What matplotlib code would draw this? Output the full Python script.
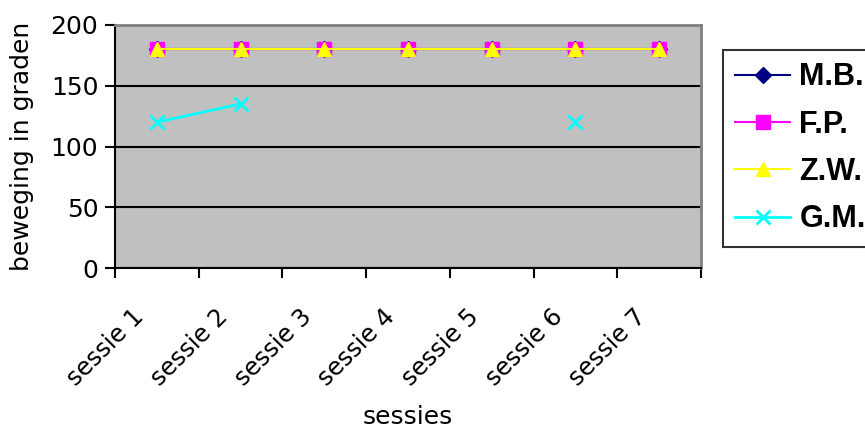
import numpy as np
import matplotlib
matplotlib.use('Agg')
import matplotlib.pyplot as plt
from matplotlib.transforms import ScaledTranslation

sessions = ['sessie 1', 'sessie 2', 'sessie 3', 'sessie 4', 'sessie 5', 'sessie 6', 'sessie 7']
mb = [180, 180, 180, 180, 180, 180, 180]
fp = [180, 180, 180, 180, 180, 180, 180]
zw = [180, 180, 180, 180, 180, 180, 180]
gm = [120, 135, np.nan, np.nan, np.nan, 120, np.nan]
series_names = ['M.B.', 'F.P.', 'Z.W.', 'G.M.']

plt.rcParams['font.family'] = 'DejaVu Sans'

fig = plt.figure(figsize=(8.65, 4.28), dpi=100)
ax = fig.add_axes([115 / 865, 1 - 268 / 428, (701 - 115) / 865, (268 - 25) / 428])
ax.set_facecolor('#c0c0c0')

x = np.arange(len(sessions)) + 0.5
ax.plot(x, mb, color='#000080', marker='D', markersize=8, lw=1.5, label=series_names[0])
ax.plot(x, fp, color='#ff00ff', marker='s', markersize=9.5, lw=1.5, label=series_names[1])
ax.plot(x, zw, color='#ffff00', marker='^', markersize=10, lw=1.5, label=series_names[2])
ax.plot(x, gm, color='#00ffff', marker='x', markersize=10, mew=2, lw=2, label=series_names[3])

ax.set_xlim(0, len(sessions))
ax.set_ylim(0, 200)
ax.set_yticks([0, 50, 100, 150, 200])
ax.set_xticks(np.arange(len(sessions) + 1))
ax.set_xticklabels([])
ax.set_xticks(x, minor=True)
ax.tick_params(axis='x', which='minor', length=0, pad=26)
ax.tick_params(axis='x', which='major', direction='out', length=7, width=1.5)
ax.tick_params(axis='y', direction='out', length=7, width=1.5, labelsize=18, pad=5)
ax.set_xticklabels(sessions, minor=True, rotation=45, ha='right', va='top',
                   rotation_mode='anchor', fontsize=17.5)
# shift the slanted labels left, like Excel does
shift = ScaledTranslation(-25 / 100, 0, fig.dpi_scale_trans)
for lbl in ax.get_xticklabels(minor=True):
    lbl.set_transform(lbl.get_transform() + shift)

ax.yaxis.grid(True, color='black', lw=1.5)
ax.set_axisbelow(True)
for s in ['top', 'right']:
    ax.spines[s].set_color('#808080')
    ax.spines[s].set_linewidth(2)
for s in ['left', 'bottom']:
    ax.spines[s].set_color('black')
    ax.spines[s].set_linewidth(1.5)

ax.set_ylabel('beweging in graden', fontsize=18)
ax.yaxis.set_label_coords((34 - 115) / 586, 0.5)
fig.text(408 / 865, 1 - 417 / 428, 'sessies', fontsize=18, ha='center', va='center')

leg = fig.legend(loc='upper left', bbox_to_anchor=(723 / 865, 1 - 50 / 428),
                 prop={'family': 'Liberation Sans', 'weight': 'bold', 'size': 22},
                 handlelength=1.8, handletextpad=0.3, labelspacing=0.57,
                 borderpad=0.4, borderaxespad=0, fancybox=False, frameon=True)
leg.get_frame().set_edgecolor('black')
leg.get_frame().set_linewidth(1.5)

fig.savefig('out.png', dpi=100)
